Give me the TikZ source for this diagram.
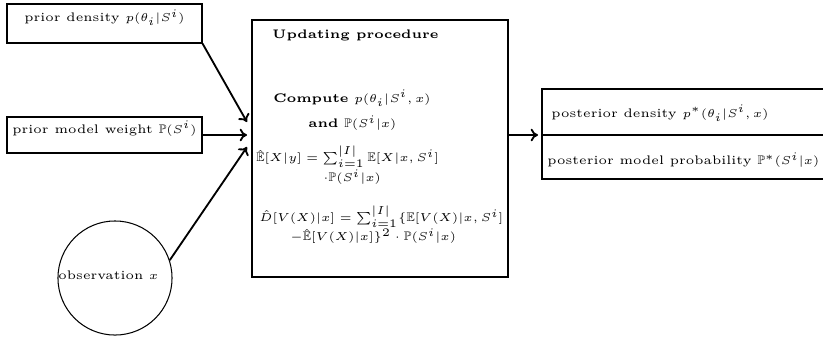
\documentclass[tikz,border=0pt]{standalone}
\usepackage{amssymb}
\usetikzlibrary{arrows.meta,fit,calc}
\begin{document}
\begin{tikzpicture}[x=0.4348pt,y=-0.4348pt,
  every node/.style={font=\fontsize{5.4}{6.5}\selectfont},
  box/.style={draw,line width=0.45pt,inner sep=0pt},
  arr/.style={line width=0.8pt,-{To[length=3.2pt,width=5.5pt]}},
  txt/.style={anchor=west,inner sep=0pt}]
\useasboundingbox (0,0) rectangle (823,336);
% left inputs
\node[box,fit={(7,4)(202,43)}] (pd) {prior density $p(\theta_i|S^i)$};
\node[box,fit={(7,117)(202,153)}] (pw) {prior model weight $\mathbb{P}(S^i)$};
\node[draw,circle,line width=0.45pt,minimum size=49.6pt,inner sep=0pt] (obs) at (115,278) {};
\node[txt] (obst) at (58,275) {observation $x$};
% main box
\node[box,fit={(252,20)(508,277)}] (upd) {};
\node[txt] (t1) at (272,35) {\textbf{Updating procedure}};
\node[txt] (t2) at (273,98) {\textbf{Compute} $p(\theta_i|S^i,x)$};
\node[txt] (t3) at (308,123) {\textbf{and} $\mathbb{P}(S^i|x)$};
\node[txt] (t4) at (256,157) {$\hat{\mathbb{E}}[X|y]=\sum_{i=1}^{|I|}\mathbb{E}[X|x,S^i]$};
\node[txt] (t5) at (323,177) {$\cdot\mathbb{P}(S^i|x)$};
\node[txt] (t6) at (259,217) {$\hat{D}[V(X)|x]=\sum_{i=1}^{|I|}\{\mathbb{E}[V(X)|x,S^i]$};
\node[txt] (t7) at (290,236) {$-\hat{\mathbb{E}}[V(X)|x]\}^2\cdot\mathbb{P}(S^i|x)$};
% outputs
\node[box,fit={(542,89)(840,135)}] (post1) {};
\node[box,fit={(542,135)(840,179)}] (post2) {};
\node[txt] (p1t) at (551,113) {posterior density $p^*(\theta_i|S^i,x)$};
\node[txt] (p2t) at (547,160) {posterior model probability $\mathbb{P}^*(S^i|x)$};
% connectors
\coordinate (in1) at (247,122);
\coordinate (in2) at (247,135);
\coordinate (in3) at (247,147);
\coordinate (out) at (538,135);
\draw[arr] (pd.south east) -- (in1);
\draw[arr] (pw.east) -- (in2);
\draw[arr] (obs.18) -- (in3);
\draw[arr] (upd.east |- out) -- (out);
\end{tikzpicture}
\end{document}
